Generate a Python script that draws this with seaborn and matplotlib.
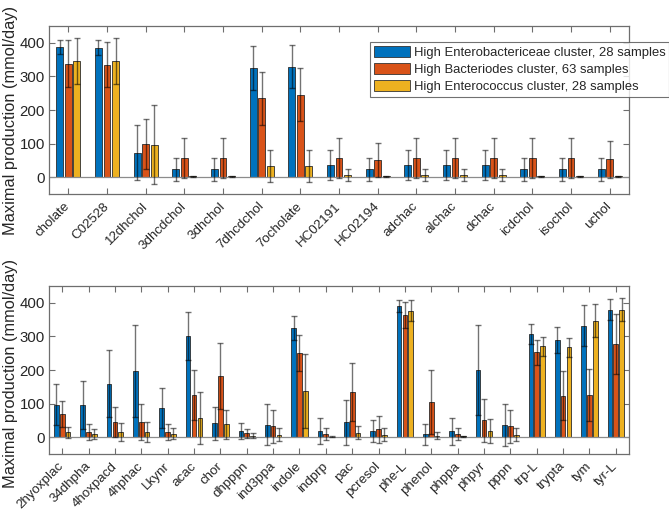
import numpy as np
import pandas as pd
import matplotlib
matplotlib.use("Agg")
import matplotlib.pyplot as plt
import matplotlib.transforms as mtransforms
import seaborn as sns

series = ["High Enterobactericeae cluster, 28 samples",
          "High Bacteriodes cluster, 63 samples",
          "High Enterococcus cluster, 28 samples"]
colors = ["#0072BD", "#D95319", "#EDB120"]

top_categories = ["cholate", "C02528", "12dhchol", "3dhcdchol", "3dhchol", "7dhcdchol",
                  "7ocholate", "HC02191", "HC02194", "adchac", "alchac", "dchac",
                  "icdchol", "isochol", "uchol"]
top_entero = [388, 386, 73, 23, 23, 325, 329, 36, 23, 36, 36, 36, 23, 23, 23]
top_entero_err = [20, 21, 82, 34, 34, 65, 65, 45, 34, 45, 45, 45, 34, 34, 34]
top_bact = [337, 335, 99, 57, 57, 235, 246, 57, 52, 57, 57, 57, 57, 57, 53]
top_bact_err = [70, 68, 74, 59, 59, 79, 78, 59, 51, 59, 59, 59, 59, 59, 55]
top_enterococ = [345, 345, 97, 3, 3, 34, 34, 7, 3, 7, 7, 7, 3, 3, 3]
top_enterococ_err = [68, 68, 118, 1, 1, 48, 48, 18, 1, 18, 18, 18, 1, 1, 1]

bot_categories = ["2hyoxplac", "34dhpha", "4hoxpacd", "4hphac", "Lkynr", "acac", "chor",
                  "dhpppn", "ind3ppa", "indole", "indprp", "pac", "pcresol", "phe-L",
                  "phenol", "phppa", "phpyr", "pppn", "trp-L", "trypta", "tym", "tyr-L"]
bot_entero = [97, 95, 159, 197, 86, 302, 41, 18, 37, 324, 18, 44, 19, 390, 9, 17,
              199, 36, 307, 289, 332, 380]
bot_entero_err = [62, 71, 100, 137, 60, 71, 50, 24, 61, 36, 38, 66, 32, 18, 31, 39,
                  134, 62, 30, 38, 62, 32]
bot_bact = [68, 15, 46, 46, 15, 125, 182, 12, 32, 250, 10, 135, 23, 364, 105, 9,
            50, 32, 253, 123, 125, 277]
bot_bact_err = [39, 24, 44, 53, 24, 74, 99, 13, 48, 53, 17, 86, 40, 39, 95, 18,
                65, 48, 37, 73, 77, 89]
bot_enterococ = [15, 9, 15, 16, 11, 58, 39, 5, 8, 137, 2, 13, 7, 377, 5, 3,
                 18, 8, 270, 267, 347, 380]
bot_enterococ_err = [16, 14, 26, 30, 15, 78, 43, 7, 19, 110, 1, 19, 19, 31, 10, 2,
                     35, 19, 28, 27, 50, 35]

yticks = [0, 100, 200, 300, 400]

FONT = "Liberation Sans"
TXT = "#262626"
AXC = "#6e6e6e"

sns.set_theme(style="white")
plt.rcParams["font.family"] = [FONT, "DejaVu Sans"]


def make_df(cats, a, b, c):
    rows = []
    for s, vals in zip(series, [a, b, c]):
        for cat, v in zip(cats, vals):
            rows.append({"category": cat, "series": s, "value": v})
    return pd.DataFrame(rows)


fig = plt.figure(figsize=(6.69, 5.16), dpi=100)
ax_top = fig.add_axes([49 / 669, 1 - 194 / 516, 580 / 669, 168 / 516])
ax_bot = fig.add_axes([49 / 669, 1 - 454 / 516, 580 / 669, 168 / 516])


def draw(ax, cats, means, errs, legend, label_y):
    df = make_df(cats, *means)
    sns.barplot(data=df, x="category", y="value", hue="series", order=cats,
                hue_order=series, palette=colors, width=0.667, gap=0.2,
                errorbar=None, edgecolor="#2b2b2b", linewidth=0.6,
                saturation=1, ax=ax, legend=legend)
    ax.axhline(0, color="#8c8c8c", lw=0.9, zorder=1.5)
    for cont, m, e in zip(ax.containers, means, errs):
        xs = [p.get_x() + p.get_width() / 2 for p in cont.patches]
        ax.errorbar(xs, m, yerr=e, fmt="none", ecolor=(0, 0, 0, 0.55),
                    elinewidth=1.0, capsize=2.3, capthick=1.0, zorder=5)
    ax.set_xlim(-0.5, len(cats) - 0.5)
    ax.set_ylim(-50, 450)
    ax.set_yticks(yticks)
    ax.set_yticklabels([str(t) for t in yticks], fontsize=10.8, color=TXT)
    ax.set_xticks(range(len(cats)))
    ax.set_xticklabels(cats, rotation=45, ha="right", va="center",
                       rotation_mode="anchor", fontsize=9.6, color=TXT)
    offset = mtransforms.ScaledTranslation(6 / 100, -4 / 100, fig.dpi_scale_trans)
    for lab in ax.get_xticklabels():
        lab.set_transform(lab.get_transform() + offset)
    ax.set_xlabel("")
    ax.set_ylabel("Maximal production (mmol/day)", fontsize=11.8, color=TXT)
    ax.yaxis.set_label_coords(-0.054, label_y)
    ax.tick_params(axis="both", which="both", direction="in", length=4.2,
                   width=0.8, color=AXC, top=True, right=True, bottom=True,
                   left=True)
    ax.tick_params(axis="y", pad=3)
    ax.tick_params(axis="x", pad=7.5)
    for sp in ax.spines.values():
        sp.set_color(AXC)
        sp.set_linewidth(0.9)
        sp.set_visible(True)


draw(ax_top, top_categories, [top_entero, top_bact, top_enterococ],
     [top_entero_err, top_bact_err, top_enterococ_err], legend=True, label_y=0.44)
draw(ax_bot, bot_categories, [bot_entero, bot_bact, bot_enterococ],
     [bot_entero_err, bot_bact_err, bot_enterococ_err], legend=False, label_y=0.48)

leg = ax_top.legend(title=None, loc="upper left",
                    bbox_to_anchor=(370 / 669, 1 - 41.7 / 516),
                    bbox_transform=fig.transFigure, fontsize=9.4,
                    frameon=True, fancybox=False, edgecolor="#4d4d4d",
                    handlelength=2.8, handleheight=0.95, handletextpad=0.25,
                    labelspacing=0.3, borderpad=0.3, borderaxespad=0)
leg.get_frame().set_linewidth(0.8)
for t in leg.get_texts():
    t.set_color(TXT)
for h in leg.legend_handles:
    h.set_edgecolor("#333333")
    h.set_linewidth(0.6)

fig.savefig("out.png", dpi=100)
